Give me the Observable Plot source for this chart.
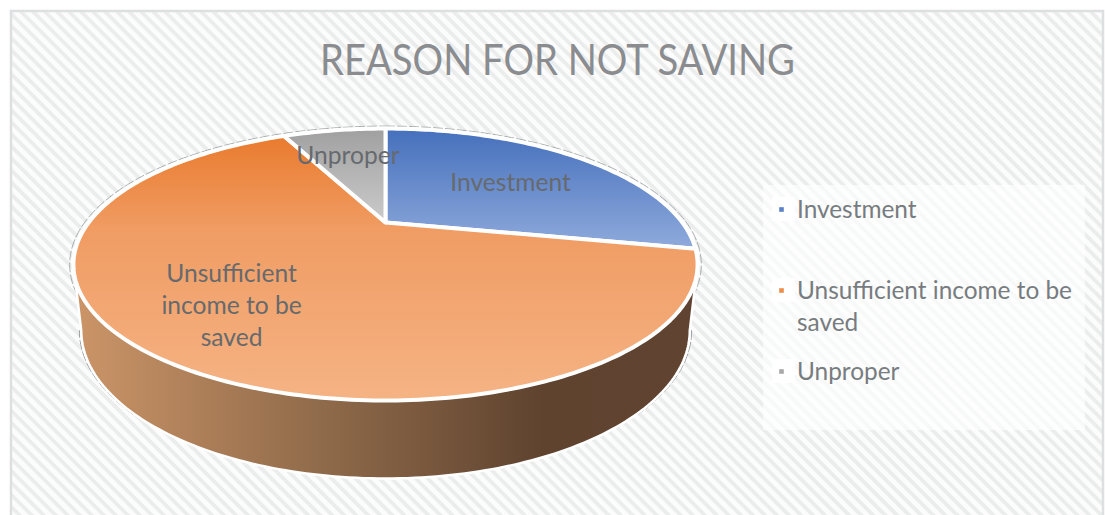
<!DOCTYPE html>
<html>
<head>
<meta charset="utf-8">
<script src="https://cdn.jsdelivr.net/npm/d3@7"></script>
<script src="https://cdn.jsdelivr.net/npm/@observablehq/plot@0.6"></script>
<style>html,body{margin:0;padding:0;background:#fff;overflow:hidden}svg{display:block}</style>
</head>
<body>
<div id="chart"></div>
<script>
const categories = ["Investment", "Unsufficient income to be saved", "Unproper"];
const shares = [28.2, 64.6, 7.2];
const sliceLabels = ["Investment", "Unsufficient\nincome to be\nsaved", "Unproper"];
const legendLabels = ["Investment", "Unsufficient income to be\nsaved", "Unproper"];
const legendColors = ["#5b82c8", "#ed8d4c", "#a8a8a8"];
const titleText = "REASON FOR NOT SAVING";

// Perspective view of the round pie
const tilt = -0.309;
const project = (r, deg) => {
  const a = deg * Math.PI / 180, u = r * Math.sin(a), v = -r * Math.cos(a), d = 1 + tilt * v;
  return {x: u / d, y: v / d};
};
const xScale = {domain: [-1, 1], range: [88.2, 681.8]};
const yScale = {domain: [-1, 1], range: [99, 345]};
const px = (p) => (p - 385) / 296.8;
const py = (p) => (p - 222) / 123;

const total = d3.sum(shares);
let acc = 0;
const slices = categories.map((name, i) => {
  const start = acc / total * 360;
  acc += shares[i];
  const end = acc / total * 360;
  const pts = [{x: 0, y: 0}];
  for (let t = start; t < end; t += 1) pts.push(project(1, t));
  pts.push(project(1, end));
  return {name, start, end, pts, mid: (start + end) / 2};
});

// Side wall: the lower rim, a lowered and slightly narrower copy of the upper rim
const lowerRim = (p) => ({x: p.x * 0.975, y: 0.878 + (p.y - 0.341) * 1.088});
const wall = [];
for (let t = 108; t <= 252; t += 1) wall.push(project(1, t));
for (let t = 252; t >= 108; t -= 1) wall.push(lowerRim(project(1, t)));

const sideEdges = [[108, 138], [222, 252]].flatMap(([a, b], k) =>
  d3.range(a, b + 1).map((t) => {
    const p = lowerRim(project(1, t));
    return {x: p.x * 1.006, y: p.y, side: k};
  }));

const halo = d3.range(0, 361, 1).map((t) => project(1, t))
  .map((p) => ({x: p.x * 1.012, y: 0.341 + (p.y - 0.341) * 1.018}));

const labelRadius = [0.62, 0.69, 0.70];
const labelNudge = [[-2, 1], [-3, 1], [1, 1]];
const labelPos = slices.map((s, i) => {
  const p = project(labelRadius[i], s.mid);
  return {x: p.x + labelNudge[i][0] / 296.8, y: p.y + labelNudge[i][1] / 123, text: sliceLabels[i]};
});

const legendRows = [209, 290, 371];
const legend = legendLabels.map((text, i) => ({
  text, color: legendColors[i], x: px(781), y: py(legendRows[i]),
  textX: px(796.5), textY: py(legendRows[i] - 14.5),
  x1: px(772), x2: px(795), y1: py(legendRows[i] - 12), y2: py(legendRows[i] + 12)
}));

const grad = ["url(#gBlue)", "url(#gOrange)", "url(#gGray)"];

const chart = Plot.plot({
  width: 1105, height: 515, margin: 0,
  x: {...xScale, axis: null}, y: {...yScale, axis: null},
  style: {background: "#fff", fontFamily: "Lato, sans-serif"},
  marks: [
    Plot.rect([{}], {x1: () => px(11), x2: () => px(1103), y1: () => py(11), y2: () => py(530),
      fill: "url(#hatch)", stroke: "#dde0e0", strokeWidth: 2.5}),
    Plot.rect([{}], {x1: () => px(763), x2: () => px(1085), y1: () => py(185), y2: () => py(430),
      fill: "#fff", fillOpacity: 0.62}),
    Plot.line(halo, {x: "x", y: "y", stroke: "#a9acae", strokeWidth: 1, strokeDasharray: "9 3"}),
    Plot.line(sideEdges, {x: "x", y: "y", z: "side", stroke: "#9a9da0", strokeWidth: 1, strokeDasharray: "9 3"}),
    Plot.line(wall, {x: "x", y: "y", fill: "url(#gWall)", stroke: "#fff", strokeWidth: 2.5, curve: "linear-closed"}),
    ...slices.map((s, i) => Plot.line(s.pts, {x: "x", y: "y", fill: grad[i], stroke: "#fff", strokeWidth: 4,
      strokeLinejoin: "round", curve: "linear-closed"})),
    Plot.text(labelPos, {x: "x", y: "y", text: "text", fontSize: 24.6, lineHeight: 1.3, fill: "#666a6e"}),
    Plot.rect(legend, {x1: "x1", x2: "x2", y1: "y1", y2: "y2", fill: "#fff", fillOpacity: 0.9}),
    Plot.dot(legend, {x: "x", y: "y", symbol: "square", r: 2.6, fill: "color"}),
    Plot.text(legend, {x: "textX", y: "textY", text: "text", textAnchor: "start", lineAnchor: "top",
      fontSize: 24.4, lineHeight: 1.31, fill: "#777c80"}),
    Plot.text([titleText], {x: () => px(557), y: () => py(61.5), text: (d) => d, fontSize: 42, fill: "#8a8c8f",
      className: "chart-title"})
  ]
});

const defs = d3.create("svg:defs");
const pat = defs.append("pattern").attr("id", "hatch").attr("patternUnits", "userSpaceOnUse")
  .attr("width", 8.5).attr("height", 8.5).attr("patternTransform", "rotate(45)");
pat.append("rect").attr("width", 8.5).attr("height", 8.5).attr("fill", "#fcfcfc");
pat.append("rect").attr("width", 8.5).attr("height", 3.8).attr("fill", "#ebeded");
const vgrad = (id, stops, horizontal) => {
  const g = defs.append("linearGradient").attr("id", id)
    .attr("x1", 0).attr("y1", 0).attr("x2", horizontal ? 1 : 0).attr("y2", horizontal ? 0 : 1);
  stops.forEach(([o, c]) => g.append("stop").attr("offset", o).attr("stop-color", c));
};
vgrad("gBlue", [[0, "#4570bc"], [1, "#8faadc"]]);
vgrad("gOrange", [[0, "#e97b2e"], [0.35, "#f09c63"], [1, "#f5b384"]]);
vgrad("gGray", [[0, "#a0a0a0"], [1, "#cbcbcb"]]);
vgrad("gWall", [[0, "#cc9568"], [0.4, "#8f6a4a"], [0.75, "#5f432f"], [1, "#604431"]], true);
chart.insertBefore(defs.node(), chart.firstChild);
d3.select(chart).selectAll(".chart-title text")
  .attr("textLength", 475).attr("lengthAdjust", "spacingAndGlyphs");
document.getElementById("chart").append(chart);
</script>
</body>
</html>
